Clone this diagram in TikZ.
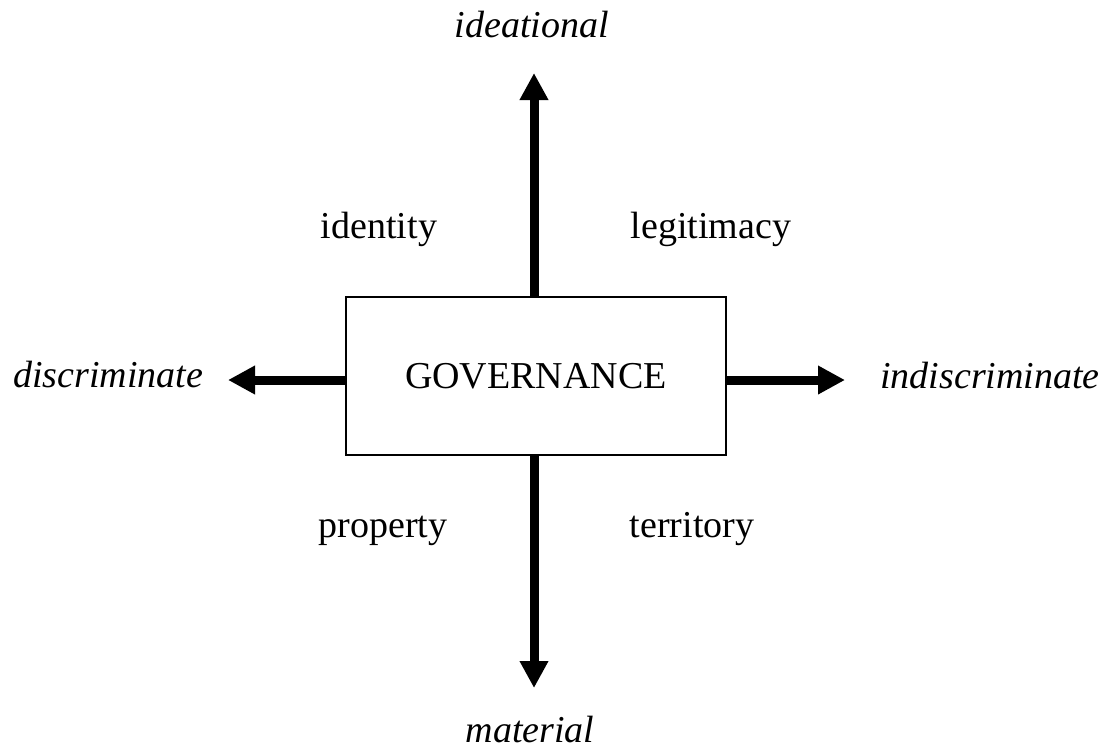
\documentclass[tikz,border=0pt]{standalone}
\usepackage{fontspec}
\setmainfont{Liberation Serif}
\usetikzlibrary{arrows.meta, positioning}

\tikzset{
    axis/.style={line width=4.5pt, -{Triangle[width=13.5pt, length=13.5pt]}},
    lbl/.style={anchor=base, inner sep=0pt},
    pole/.style={lbl, font=\fontsize{19}{23}\selectfont\itshape}
}

\begin{document}
\begin{tikzpicture}[x=0.5pt, y=-0.5pt, font=\fontsize{19}{23}\selectfont]
\useasboundingbox (0,0) rectangle (1112,750);

\node[draw, line width=0.6pt,
    minimum width=190pt,
    minimum height=79pt,
    text centered
] (gov) at (536,376) {GOVERNANCE};

% ends of the arrows
\coordinate (top) at (534,73);
\coordinate (bot) at (534,688);
\coordinate (lft) at (228,380);
\coordinate (rgt) at (845,380);

\draw [axis] (gov.north -| top) -- (top);
\draw [axis] (gov.south -| bot) -- (bot);
\draw [axis] (gov.west |- lft) -- (lft);
\draw [axis] (gov.east |- rgt) -- (rgt);

\node[pole] (ideal) at (532,37) {ideational};
\node[pole] (mat) at (530,742) {material};
\node[pole] (disc) at (108,387) {discriminate};
\node[pole] (indisc) at (990,388) {indiscriminate};

\node[lbl] (ident) at (379,238) {identity};
\node[lbl] (legit) at (711,238) {legitimacy};
\node[lbl] (prop) at (383,537) {property};
\node[lbl] (terr) at (692,537) {territory};

\end{tikzpicture}
\end{document}
